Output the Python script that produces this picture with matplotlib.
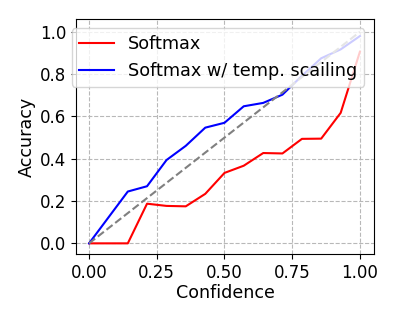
import matplotlib
matplotlib.use("Agg")
import matplotlib.pyplot as plt

confidence = [0.0, 0.143, 0.214, 0.286, 0.357, 0.429, 0.5, 0.571, 0.643, 0.714, 0.786, 0.857, 0.929, 1.0]
acc_softmax = [0.0, 0.0, 0.1875, 0.177, 0.175, 0.234, 0.333, 0.367, 0.427, 0.425, 0.494, 0.495, 0.617, 0.906]
acc_temp = [0.0, 0.245, 0.270, 0.394, 0.461, 0.547, 0.570, 0.648, 0.664, 0.703, 0.792, 0.875, 0.917, 0.980]
diag = [0.0, 1.0]
xticks = [0.0, 0.25, 0.5, 0.75, 1.0]
yticks = [0.0, 0.2, 0.4, 0.6, 0.8, 1.0]

fig = plt.figure(figsize=(3.99, 3.19), dpi=100)
ax = fig.add_axes([0.190, 0.204, 0.748, 0.736])
ax.plot(confidence, acc_softmax, color='red', lw=1.5, label='Softmax')
ax.plot(confidence, acc_temp, color='blue', lw=1.5, label='Softmax w/ temp. scailing')
ax.plot(diag, diag, color='gray', ls='--', lw=1.5)
ax.set_xlim(-0.049, 1.053)
ax.set_ylim(-0.05, 1.06)
ax.set_xticks(xticks)
ax.set_xticklabels(['0.00', '0.25', '0.50', '0.75', '1.00'])
ax.set_yticks(yticks)
ax.set_yticklabels(['0.0', '0.2', '0.4', '0.6', '0.8', '1.0'])
ax.tick_params(labelsize=12)
ax.grid(True, ls='--', color='#b8b8b8', lw=0.8)
ax.set_xlabel('Confidence', fontsize=12.6, labelpad=2)
ax.set_ylabel('Accuracy', fontsize=12.6, labelpad=3)
ax.legend(loc='upper left', bbox_to_anchor=(-0.014, 0.962), borderaxespad=0, fontsize=12.7)
fig.savefig('out.png', dpi=100)
